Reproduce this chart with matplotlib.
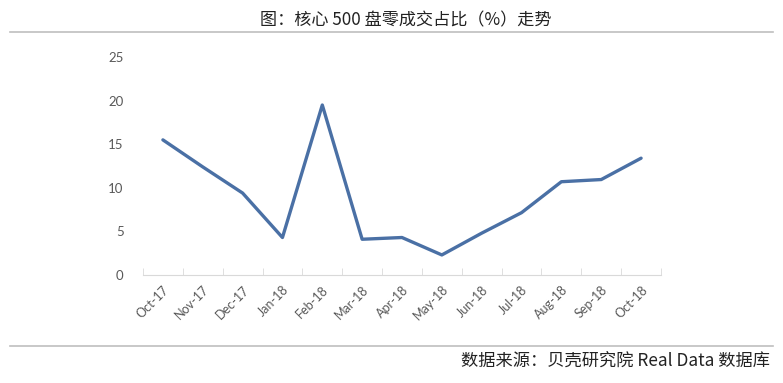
import matplotlib
matplotlib.use("Agg")
import matplotlib.pyplot as plt
from matplotlib.lines import Line2D

plt.rcParams['font.family'] = ['Noto Sans CJK SC', 'DejaVu Sans']

# data
months = ["Oct-17", "Nov-17", "Dec-17", "Jan-18", "Feb-18", "Mar-18", "Apr-18",
          "May-18", "Jun-18", "Jul-18", "Aug-18", "Sep-18", "Oct-18"]
share = [15.5, 12.4, 9.4, 4.3, 19.5, 4.1, 4.3, 2.3, 4.8, 7.15, 10.7, 10.95, 13.4]
yticks = [0, 5, 10, 15, 20, 25]

fig = plt.figure(figsize=(7.83, 3.83), dpi=100)
ax = fig.add_axes([0.1826, 0.282, 0.6616, 0.569])

x = list(range(len(months)))
ax.plot(x, share, color="#4A70A5", linewidth=2.4, solid_capstyle="round")

ax.set_xlim(-0.5, len(months) - 0.5)
ax.set_ylim(0, 25)
ax.set_yticks(yticks)
ax.set_xticks(x)
ax.set_xticklabels(months, rotation=45, ha="right", rotation_mode="anchor",
                   fontsize=9, color="#595959", family="Lato")
for lab in ax.get_yticklabels():
    lab.set_family("Lato")
ax.tick_params(axis="y", length=0, labelsize=9.5, labelcolor="#595959", pad=14)
ax.tick_params(axis="x", length=0, pad=6)

# category boundary ticks
ax.set_xticks([i - 0.5 for i in range(len(months) + 1)], minor=True)
ax.tick_params(axis="x", which="minor", length=5, color="#D9D9D9", direction="in")

for s in ["top", "right", "left"]:
    ax.spines[s].set_visible(False)
ax.spines["bottom"].set_color("#D9D9D9")

fig.text(0.518, 0.948, "图：核心 500 盘零成交占比（%）走势", ha="center", va="center",
         fontsize=12.3, color="#222222")
fig.add_artist(Line2D([0.013, 0.987], [0.916, 0.916], color="#BFBFBF", linewidth=1.2))
fig.add_artist(Line2D([0.013, 0.987], [0.097, 0.097], color="#BFBFBF", linewidth=1.2))
fig.text(0.984, 0.055, "数据来源：贝壳研究院 Real Data 数据库", ha="right", va="center",
         fontsize=12.4, color="#222222")

fig.savefig("out.png", dpi=100)
